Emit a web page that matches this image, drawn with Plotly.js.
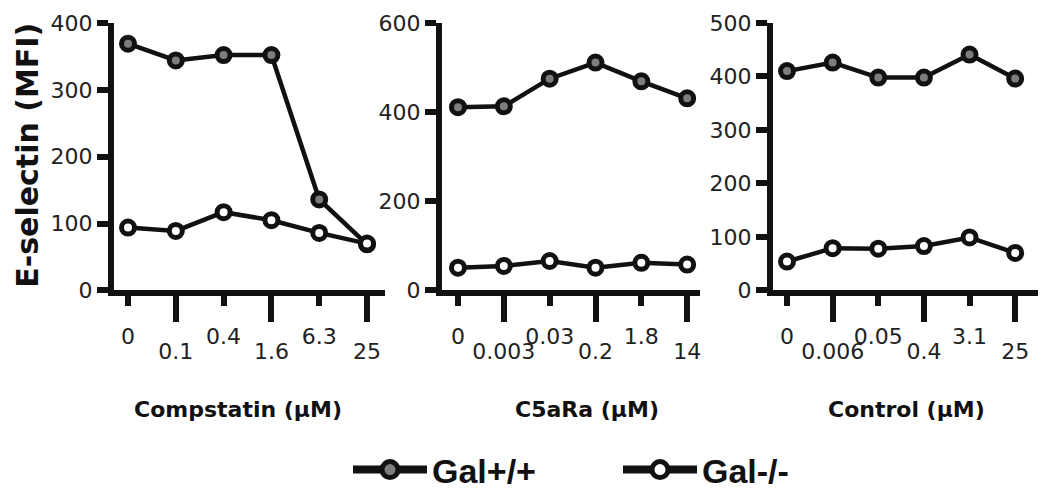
<!DOCTYPE html>
<html>
<head>
<meta charset="utf-8">
<script src="https://cdn.plot.ly/plotly-3.0.1.min.js"></script>
<style>
  html, body { margin: 0; padding: 0; background: #fff; }
  #chart { width: 1050px; height: 499px; }
</style>
</head>
<body>
<div id="chart"></div>
<script>
// doses (tick labels) for each panel
const compstatinDoses = ['0', '0.1', '0.4', '1.6', '6.3', '25'];
const c5aRaDoses = ['0', '0.003', '0.03', '0.2', '1.8', '14'];
const controlDoses = ['0', '0.006', '0.05', '0.4', '3.1', '25'];

// E-selectin MFI
const compstatinWT = [369, 344, 352, 352, 136, 69];
const compstatinKO = [94, 89, 117, 105, 86, 70];
const c5aRaWT = [411, 413, 475, 511, 469, 431];
const c5aRaKO = [51, 55, 66, 51, 62, 58];
const controlWT = [410, 426, 398, 398, 441, 396];
const controlKO = [54, 79, 78, 83, 99, 70];

const seriesNames = ['Gal+/+', 'Gal-/-'];
const seriesFill = ['#7d7d7d', '#ffffff'];
const panelTitles = ['Compstatin (µM)', 'C5aRa (µM)', 'Control (µM)'];

const W = 1050, H = 499;
const px = v => v / W;
const py = v => 1 - v / H;

const panels = [
  { doses: compstatinDoses, wt: compstatinWT, ko: compstatinKO, dom: [114, 385], range: [-0.293, 5.376], yr: [0, 400], dtick: 100, tcx: 238 },
  { doses: c5aRaDoses, wt: c5aRaWT, ko: c5aRaKO, dom: [442, 700], range: [-0.349, 5.28], yr: [0, 600], dtick: 200, tcx: 587 },
  { doses: controlDoses, wt: controlWT, ko: controlKO, dom: [773, 1038], range: [-0.307, 5.5], yr: [0, 500], dtick: 100, tcx: 906 }
];

const INK = '#111';
const tickFont = { family: 'DejaVu Sans', size: 22, color: '#222' };

const data = [];
const layout = {
  width: W, height: H,
  margin: { l: 0, r: 0, t: 0, b: 0 },
  paper_bgcolor: '#fff', plot_bgcolor: 'rgba(0,0,0,0)',
  showlegend: true,
  legend: {
    orientation: 'h', x: px(348), xanchor: 'left', y: py(471), yanchor: 'middle',
    font: { family: 'Liberation Sans', size: 34, color: INK, weight: 'bold' },
    itemwidth: 74, entrywidthmode: 'pixels', entrywidth: 181, tracegroupgap: 0
  },
  annotations: [
    { text: '<b>E-selectin (MFI)</b>', xref: 'paper', yref: 'paper', x: px(28), y: py(156),
      xanchor: 'center', yanchor: 'middle',
      textangle: -90, showarrow: false, font: { family: 'DejaVu Sans', size: 30, color: INK } }
  ]
};

// legend keys (bigger symbols than the plotted markers; a single blank point each)
seriesNames.forEach((nm, i) => {
  data.push({
    x: [null], y: [null], type: 'scatter', mode: 'lines+markers', name: nm,
    hoverinfo: 'skip',
    line: { color: INK, width: 8 },
    marker: { size: 16, color: seriesFill[i], line: { color: INK, width: 5 } }
  });
});

panels.forEach((p, k) => {
  const n = k + 1;
  const xs = p.doses.map((d, i) => i);
  const xa = n === 1 ? 'x' : 'x' + n;
  const ya = n === 1 ? 'y' : 'y' + n;
  const xo = 'x' + (n + 3);
  const xk = n === 1 ? 'xaxis' : 'xaxis' + n;
  const yk = n === 1 ? 'yaxis' : 'yaxis' + n;
  const ovK = 'xaxis' + (n + 3);

  [p.wt, p.ko].forEach((vals, i) => {
    data.push({
      x: xs, y: vals, xaxis: xa, yaxis: ya, type: 'scatter', mode: 'lines+markers',
      name: seriesNames[i], showlegend: false, cliponaxis: false,
      line: { color: INK, width: 4.5 },
      marker: { size: 13, color: seriesFill[i], line: { color: INK, width: 5 } }
    });
  });
  // invisible trace so the overlay axis (long ticks) gets drawn
  data.push({
    x: xs, y: p.ko, xaxis: xo, yaxis: ya, type: 'scatter', mode: 'markers',
    marker: { opacity: 0 }, showlegend: false, hoverinfo: 'skip'
  });

  const even = xs.filter(i => i % 2 === 0);
  const odd = xs.filter(i => i % 2 === 1);

  // short ticks + upper row of labels
  layout[xk] = {
    domain: [px(p.dom[0]), px(p.dom[1])], anchor: ya, range: p.range,
    showline: true, linecolor: INK, linewidth: 6,
    showgrid: false, zeroline: false,
    tickmode: 'array', tickvals: even, ticktext: even.map(i => p.doses[i]),
    ticks: 'outside', ticklen: 10, tickwidth: 6, tickcolor: INK,
    tickfont: tickFont, ticklabelstandoff: 11
  };
  // long ticks + lower row of labels
  layout[ovK] = {
    overlaying: xa, anchor: ya, side: 'bottom', range: p.range,
    showline: false, showgrid: false, zeroline: false,
    tickmode: 'array', tickvals: odd, ticktext: odd.map(i => p.doses[i]),
    ticks: 'outside', ticklen: 31, tickwidth: 6, tickcolor: INK,
    tickfont: tickFont, ticklabelstandoff: 10
  };
  layout[yk] = {
    domain: [py(291), py(23)], anchor: xa, range: p.yr,
    showline: true, linecolor: INK, linewidth: 6,
    showgrid: false, zeroline: false,
    tickmode: 'linear', tick0: 0, dtick: p.dtick,
    ticks: 'outside', ticklen: 11, tickwidth: 6, tickcolor: INK,
    tickfont: tickFont, ticklabelstandoff: 0
  };
  layout.annotations.push({
    text: '<b>' + panelTitles[k] + '</b>', xref: 'paper', yref: 'paper',
    x: px(p.tcx), y: py(410), xanchor: 'center', yanchor: 'middle', showarrow: false,
    font: { family: 'DejaVu Sans', size: 22, color: INK }
  });
});

Plotly.newPlot('chart', data, layout, { displayModeBar: false, staticPlot: true });
</script>
</body>
</html>
